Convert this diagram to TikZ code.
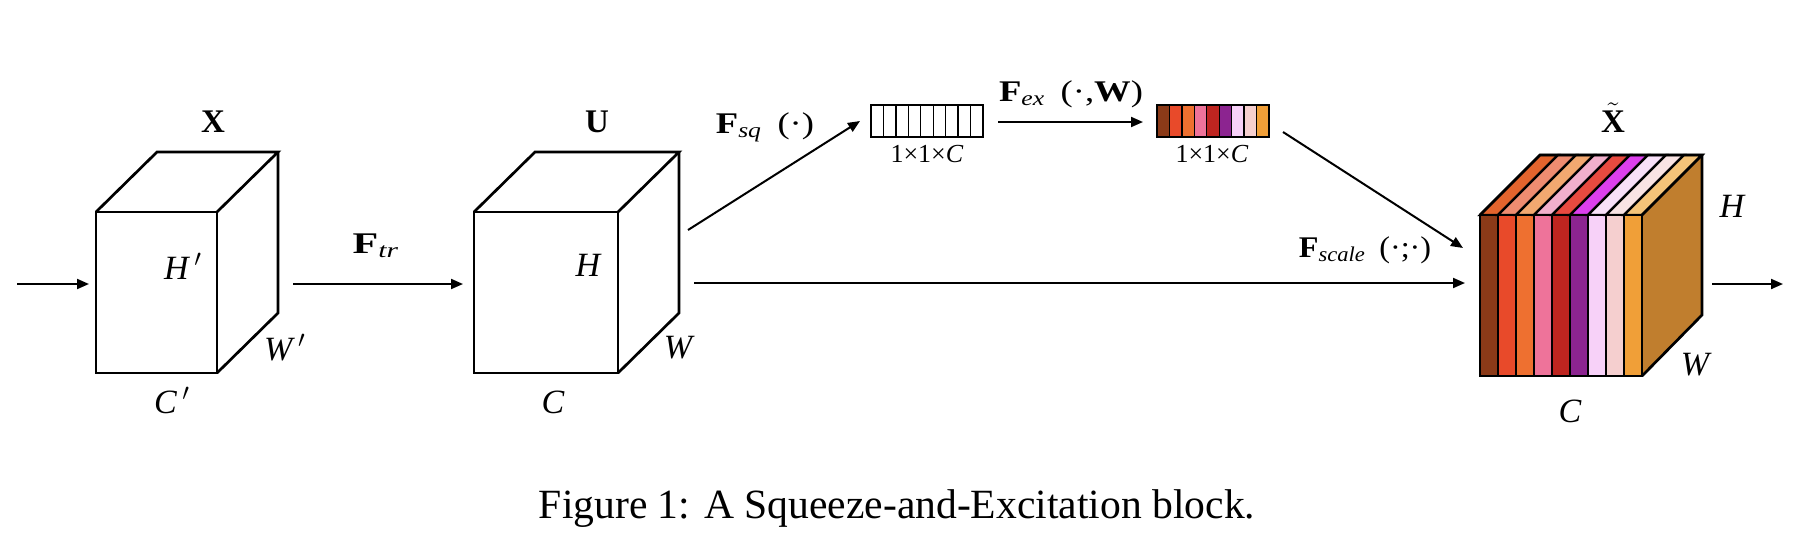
\documentclass[tikz,border=0pt]{standalone}
\usepackage{amsmath}
\usepackage{fontspec}
\setmainfont{Liberation Serif}
\usetikzlibrary{arrows.meta}
\definecolor{f1}{HTML}{8B3A18}\definecolor{f2}{HTML}{E84A2A}\definecolor{f3}{HTML}{EE7030}
\definecolor{f4}{HTML}{EE739A}\definecolor{f5}{HTML}{BE2520}\definecolor{f6}{HTML}{8C2490}
\definecolor{f7}{HTML}{F7D1F8}\definecolor{f8}{HTML}{F5CFCF}\definecolor{f9}{HTML}{F09F38}
\definecolor{t1}{HTML}{E3642D}\definecolor{t2}{HTML}{EE8C70}\definecolor{t3}{HTML}{F2A870}
\definecolor{t4}{HTML}{F2B0CC}\definecolor{t5}{HTML}{E84A40}\definecolor{t6}{HTML}{DD3FEE}
\definecolor{t7}{HTML}{F8E0F8}\definecolor{t8}{HTML}{F9E3E3}\definecolor{t9}{HTML}{F5C479}
\definecolor{sidec}{HTML}{C07E2E}
\tikzset{
  edge/.style={line width=1.35pt, line join=miter},
  arr/.style={line width=1pt, -{Triangle[length=6pt,width=5pt]}},
  dimlab/.style={font=\fontsize{17}{20}\selectfont\itshape, inner sep=0pt, anchor=base},
  bold/.style={font=\fontsize{16.5}{19}\selectfont\bfseries, inner sep=0pt, anchor=base},
  oplab/.style={font=\fontsize{15}{18}\selectfont, inner sep=0pt, anchor=base, xscale=1.22},
  veclab/.style={font=\fontsize{13}{15}\selectfont, inner sep=0pt, anchor=base},
  cell/.style={line width=0.65pt}
}
\begin{document}
\begin{tikzpicture}[x=0.5pt,y=-0.5pt]
\useasboundingbox (0,0) rectangle (1820,552);
% ---- cube X ----
\draw[edge] (96,212) rectangle (217,373);
\draw[edge] (96,212) -- (157,152) -- (278,152) -- (217,212);
\draw[edge] (278,152) -- (278,313) -- (217,373);
\node[bold] (lX) at (213,132) {X};
\node[dimlab] (lH1) at (183,279) {H\,$'$};
\node[dimlab] (lW1) at (285,360) {W\,$'$};
\node[dimlab] (lC1) at (172,413) {C\,$'$};
% ---- cube U ----
\draw[edge] (474,212) rectangle (618,373);
\draw[edge] (474,212) -- (535,152) -- (679,152) -- (618,212);
\draw[edge] (679,152) -- (679,313) -- (618,373);
\node[bold] (lU) at (597,132) {U};
\node[dimlab] (lH2) at (588,276) {H};
\node[dimlab] (lW2) at (678,358) {W};
\node[dimlab] (lC2) at (553,413) {C};
% ---- squeeze vector ----
\foreach \i in {0,...,8}
  \draw[cell] ({871+12.444*\i},105) rectangle ({883.444+12.444*\i},137);
\node[veclab] (v1) at (927,162) {1×1×\textit{C}};
% ---- excitation vector ----
\foreach \i/\c in {0/f1,1/f2,2/f3,3/f4,4/f5,5/f6,6/f7,7/f8,8/f9}
  \draw[cell, fill=\c] ({1157+12.444*\i},105) rectangle ({1169.444+12.444*\i},137);
\node[veclab] (v2) at (1212,162) {1×1×\textit{C}};
% ---- output cube ----
\fill[sidec] (1642,215) -- (1702,155) -- (1702,315) -- (1642,376) -- cycle;
\foreach \i/\fc/\tc in {0/f1/t1,1/f2/t2,2/f3/t3,3/f4/t4,4/f5/t5,5/f6/t6,6/f7/t7,7/f8/t8,8/f9/t9}{
  \draw[line width=1.2pt, fill=\tc] ({1480+18*\i},215) -- ({1540+18*\i},155) -- ({1558+18*\i},155) -- ({1498+18*\i},215) -- cycle;
  \draw[line width=1.2pt, fill=\fc] ({1480+18*\i},215) rectangle ({1498+18*\i},376);
}
\draw[edge] (1480,215) rectangle (1642,376);
\draw[edge] (1480,215) -- (1540,155) -- (1702,155) -- (1642,215);
\draw[edge] (1702,155) -- (1702,315) -- (1642,376);
\node[bold] (lXt) at (1613,132) {$\tilde{\textbf{X}}$};
\node[dimlab] (lH3) at (1732,217) {H};
\node[dimlab] (lW3) at (1695,375) {W};
\node[dimlab] (lC3) at (1570,422) {C};
% ---- connector end points ----
\coordinate (inA) at (17,284);   \coordinate (inB) at (89,284);
\coordinate (trA) at (293,284);  \coordinate (trB) at (463,284);
\coordinate (sqA) at (688,230);  \coordinate (sqB) at (860,121);
\coordinate (exA) at (998,122);  \coordinate (exB) at (1143,122);
\coordinate (mA) at (694,283);   \coordinate (mB) at (1465,283);
\coordinate (dA) at (1283,132);  \coordinate (dB) at (1463,248);
\coordinate (oA) at (1712,284);  \coordinate (oB) at (1783,284);
\draw[arr] (inA) -- (inB);
\draw[arr] (trA) -- (trB);
\draw[arr] (sqA) -- (sqB);
\draw[arr] (exA) -- (exB);
\draw[arr] (mA) -- (mB);
\draw[arr] (dA) -- (dB);
\draw[arr] (oA) -- (oB);
% ---- operator labels ----
\node[oplab, xscale=1.15] (ltr) at (376,253) {$\textbf{F}_{\textit{tr}}$};
\node[oplab] (lsq) at (765,133) {$\textbf{F}_{\textit{sq}}$\, (·)};
\node[oplab] (lex) at (1071,101) {$\textbf{F}_{\textit{ex}}$\, (·,\textbf{W})};
\node[oplab, xscale=0.88] (lsc) at (1365,257) {$\textbf{F}_{\textit{scale}}$\, (·;·)};
% ---- caption ----
\node[font=\fontsize{20.8}{24}\selectfont, inner sep=0pt, anchor=base] (cap) at (897,518) {Figure 1: A Squeeze-and-Excitation block.};
\end{tikzpicture}
\end{document}
